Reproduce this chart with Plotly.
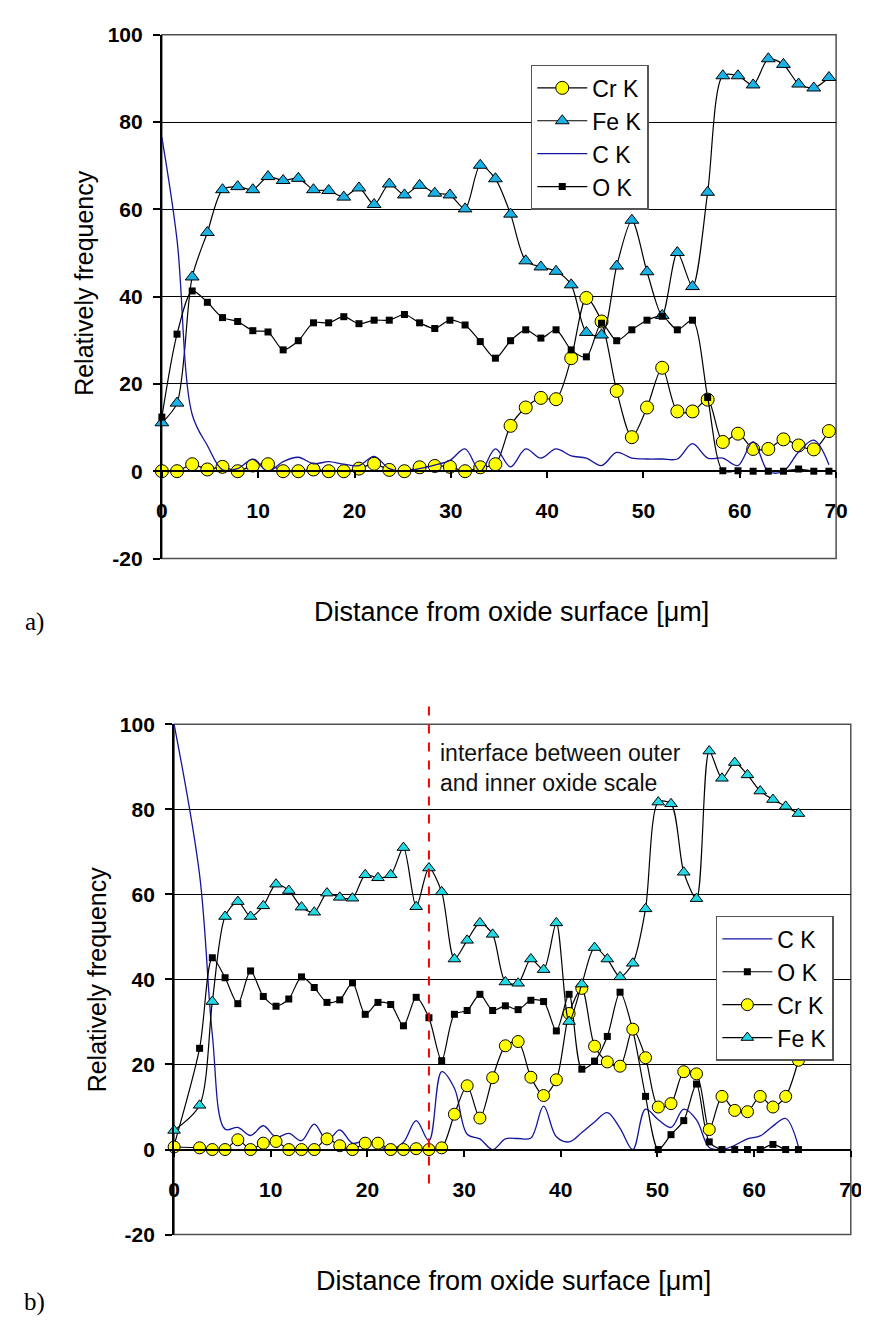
import plotly.graph_objects as go

# ---------------- data : panel a) ----------------
a_x = [0, 1.574, 3.148, 4.722, 6.296, 7.87, 9.444, 11.018, 12.592, 14.166, 15.74,
       17.314, 18.888, 20.462, 22.036, 23.61, 25.184, 26.758, 28.332, 29.906, 31.48,
       33.054, 34.628, 36.202, 37.776, 39.35, 40.924, 42.498, 44.072, 45.646, 47.22,
       48.794, 50.368, 51.942, 53.516, 55.09, 56.664, 58.238, 59.812, 61.386, 62.96,
       64.534, 66.108, 67.682, 69.256]
a_cr = [0, 0, 1.6, 0.4, 1.0, 0, 1.3, 1.6, 0, 0, 0.4, 0, 0, 0.6, 1.7, 0.3, 0, 0.9, 1.2,
        1.0, 0, 0.9, 1.6, 10.4, 14.6, 16.8, 16.5, 25.9, 39.7, 34.3, 18.4, 7.8, 14.6,
        23.7, 13.7, 13.7, 16.4, 6.7, 8.6, 5.1, 5.1, 7.3, 5.9, 5.0, 9.2]
a_fe = [11.1, 15.6, 44.5, 54.7, 64.5, 65.2, 64.5, 67.5, 66.6, 67.1, 64.5, 64.3, 62.8,
        64.9, 61.1, 65.8, 63.3, 65.5, 63.7, 63.3, 60.1, 70.1, 67.0, 58.9, 48.2, 46.8,
        45.8, 42.7, 31.8, 31.2, 47.0, 57.5, 45.7, 35.7, 50.1, 42.3, 63.9, 90.6, 90.6,
        88.5, 94.5, 93.2, 88.7, 87.8, 90.2]
a_c = [76.5, 53, 13, 5.9, 0.3, 0.6, 2.7, 0, 2.2, 3.2, 1.7, 2.2, 1.6, 1.3, 3.4, 0.6, 0,
       0.6, 1.4, 2.5, 5.1, 0, 5.1, 1.0, 5.1, 3.0, 5.1, 3.5, 3.0, 1.3, 4.3, 3.0, 2.8,
       2.8, 2.8, 6.3, 3.0, 3.0, 1.3, 6.8, 0, 0, 4.4, 7.1, 1.5]
a_o = [12.4, 31.4, 41.3, 38.7, 35.2, 34.3, 32.2, 31.9, 27.8, 29.9, 34.0, 34.0, 35.4,
       33.8, 34.6, 34.6, 35.9, 34.0, 32.7, 34.6, 33.5, 29.7, 25.9, 29.9, 32.4, 30.5,
       32.4, 27.8, 26.2, 33.9, 29.9, 32.4, 34.6, 35.5, 32.4, 34.6, 16.9, 0.1, 0.1, 0,
       0, 0, 0.5, 0, 0]

# ---------------- data : panel b) ----------------
b_x = [0, 2.636, 3.954, 5.272, 6.59, 7.908, 9.226, 10.544, 11.862, 13.18, 14.498,
       15.816, 17.134, 18.452, 19.77, 21.088, 22.406, 23.724, 25.042, 26.36, 27.678,
       28.996, 30.314, 31.632, 32.95, 34.268, 35.586, 36.904, 38.222, 39.54, 40.858,
       42.176, 43.494, 44.812, 46.13, 47.448, 48.766, 50.084, 51.402, 52.72, 54.038,
       55.356, 56.674, 57.992, 59.31, 60.628, 61.946, 63.264, 64.582]
b_c = [100, 64.6, 27, 4.8, 5.2, 3.3, 5.6, 2.9, 3.8, 2.1, 6.0, 2.1, 4.6, 1.5, 2.0, 0.8,
       0, 1.7, 6.8, 2.1, 18.3, 14.4, 3.6, 2.5, 0, 2.5, 2.6, 2.7, 10.2, 3.0, 1.8, 4.0,
       6.5, 8.7, 5.0, 0, 9.5, 7.0, 5.2, 9.5, 7.0, 0.5, 0, 1.0, 2.5, 3.2, 5.5, 7.3, 0.7]
b_o = [1.0, 23.8, 45.1, 40.4, 34.3, 42.0, 36.0, 33.7, 35.4, 40.6, 38.1, 34.6, 35.2,
       39.2, 31.8, 34.6, 34.1, 29.1, 35.8, 31.0, 20.9, 31.8, 32.7, 36.5, 32.7, 33.8,
       32.9, 35.1, 34.8, 27.9, 36.5, 18.9, 20.8, 26.6, 37.0, 28.0, 12.5, 0, 3.5, 6.8,
       15.4, 1.8, 0, 0, 0, 0, 1.2, 0, 0]
b_cr = [0.6, 0.4, 0, 0, 2.3, 0, 1.5, 1.9, 0, 0, 0, 2.5, 0.9, 0, 1.5, 1.5, 0, 0, 0.2, 0,
        0.4, 8.3, 15.0, 7.4, 16.9, 24.4, 25.4, 17.0, 12.7, 16.4, 32.0, 37.9, 24.3, 20.6,
        19.6, 28.3, 21.6, 10.0, 10.8, 18.3, 17.8, 4.7, 12.5, 9.2, 8.9, 12.5, 10.0, 12.5,
        21.0]
b_fe = [4.5, 10.4, 34.8, 54.8, 58.3, 54.8, 57.3, 62.4, 60.9, 57.0, 55.8, 60.3, 59.3,
        59.1, 64.6, 63.9, 64.6, 71.0, 57.1, 66.2, 60.6, 44.8, 49.2, 53.3, 50.6, 39.4,
        39.1, 44.8, 42.3, 53.3, 30.1, 38.9, 47.5, 44.8, 40.6, 43.8, 56.6, 81.7, 81.3,
        65.2, 59.0, 93.7, 87.3, 91.0, 88.1, 84.3, 82.3, 80.7, 79.0]
interface_x = 26.36

x_range = [0, 70]
y_range = [-20, 100]
x_ticks = [0, 10, 20, 30, 40, 50, 60, 70]
y_ticks = [-20, 0, 20, 40, 60, 80, 100]
y_tick_labels = ["-20", "0", "20", "40", "60", "80", "100"]
x_title = "Distance from oxide surface [μm]"
y_title = "Relatively frequency"

# ---------------- styling ----------------
W, H = 869, 1328
SANS = "Liberation Sans, Arial, sans-serif"
SERIF = "Liberation Serif, Times New Roman, serif"
FE_A = "#18B2E6"
FE_B = "#22DAE6"
C_COL = "#14149C"
SPL = 0.8


def px2x(p):
    return p / W


def px2y(p):
    return 1 - p / H


# panel domains (pixel extents of the plot areas)
a_dom_x = [px2x(151), px2x(839.5)]
a_dom_y = [px2y(548), px2y(15)]
b_dom_x = [px2x(163.5), px2x(854.5)]
b_dom_y = [px2y(1236), px2y(716.7)]


def zero_pos(dom):
    return dom[0] + (0 - y_range[0]) / (y_range[1] - y_range[0]) * (dom[1] - dom[0])


fig = go.Figure()


def cr_trace(x, y, xa, ya, leg, size):
    return go.Scatter(x=x, y=y, name="Cr K", mode="lines+markers", xaxis=xa, yaxis=ya,
                      legend=leg, cliponaxis=False,
                      line=dict(color="black", width=1.2, shape="spline", smoothing=SPL),
                      marker=dict(symbol="circle", size=size, color="#FFFF00",
                                  line=dict(color="black", width=1)))


def fe_trace(x, y, xa, ya, leg, size, col):
    return go.Scatter(x=x, y=y, name="Fe K", mode="lines+markers", xaxis=xa, yaxis=ya,
                      legend=leg, cliponaxis=False,
                      line=dict(color="black", width=1.2, shape="spline", smoothing=SPL),
                      marker=dict(symbol="triangle-up", size=size, color=col,
                                  line=dict(color="black", width=1)))


def c_trace(x, y, xa, ya, leg):
    return go.Scatter(x=x, y=y, name="C K", mode="lines", xaxis=xa, yaxis=ya,
                      legend=leg, cliponaxis=False,
                      line=dict(color=C_COL, width=1.3, shape="spline", smoothing=1.0))


def o_trace(x, y, xa, ya, leg, size):
    return go.Scatter(x=x, y=y, name="O K", mode="lines+markers", xaxis=xa, yaxis=ya,
                      legend=leg, cliponaxis=False,
                      line=dict(color="black", width=1.2, shape="spline", smoothing=SPL),
                      marker=dict(symbol="square", size=size, color="black",
                                  line=dict(color="black", width=0)))


# panel a) (legend order: Cr, Fe, C, O)
fig.add_trace(cr_trace(a_x, a_cr, "x", "y", "legend", 13))
fig.add_trace(fe_trace(a_x, a_fe, "x", "y", "legend", 12, FE_A))
fig.add_trace(c_trace(a_x, a_c, "x", "y", "legend"))
fig.add_trace(o_trace(a_x, a_o, "x", "y", "legend", 7))

# panel b) (legend order: C, O, Cr, Fe)
fig.add_trace(c_trace(b_x, b_c, "x2", "y2", "legend2"))
fig.add_trace(o_trace(b_x, b_o, "x2", "y2", "legend2", 7))
fig.add_trace(cr_trace(b_x, b_cr, "x2", "y2", "legend2", 12))
fig.add_trace(fe_trace(b_x, b_fe, "x2", "y2", "legend2", 11, FE_B))

tickfont = dict(family=SANS, size=21, color="black", weight="bold")


def xaxis(dom, ydom):
    return dict(domain=dom, range=x_range, anchor="free", position=zero_pos(ydom),
                tickvals=x_ticks, ticks="outside", ticklen=6, tickwidth=1.5,
                tickcolor="black", showline=True, linecolor="black", linewidth=2,
                showgrid=False, zeroline=False, tickfont=tickfont,
                ticklabelstandoff=15, fixedrange=True)


def yaxis(dom, anchor):
    return dict(domain=dom, range=y_range, anchor=anchor, tickvals=y_ticks,
                ticktext=y_tick_labels,
                ticks="outside", ticklen=7, tickwidth=1.5, tickcolor="black",
                showline=True, linecolor="black", linewidth=2, showgrid=True,
                gridcolor="black", gridwidth=1, zeroline=False, tickfont=tickfont,
                ticklabelstandoff=6, fixedrange=True)


legend_common = dict(bgcolor="white", bordercolor="#555555", borderwidth=1.5,
                     font=dict(family=SANS, size=23, color="black"),
                     xanchor="left", yanchor="top", itemwidth=50,
                     tracegroupgap=0)

fig.update_layout(
    width=W, height=H, autosize=False,
    margin=dict(l=0, r=0, t=0, b=0),
    paper_bgcolor="white", plot_bgcolor="white",
    showlegend=True,
    xaxis=xaxis(a_dom_x, a_dom_y),
    yaxis=yaxis(a_dom_y, "x"),
    xaxis2=xaxis(b_dom_x, b_dom_y),
    yaxis2=yaxis(b_dom_y, "x2"),
    legend=dict(x=px2x(527.7), y=px2y(45.7), **legend_common),
    legend2=dict(x=px2x(716.7), y=px2y(911.7), **legend_common),
)

# plot-area borders
for xr, yr in (("x domain", "y domain"), ("x2 domain", "y2 domain")):
    fig.add_shape(type="rect", xref=xr, yref=yr, x0=0, x1=1, y0=0, y1=1,
                  line=dict(color="#505050", width=1.5), layer="below")

# dashed interface line in panel b)
fig.add_shape(type="line", xref="x2 domain", yref="paper",
              x0=(interface_x - x_range[0]) / (x_range[1] - x_range[0]),
              x1=(interface_x - x_range[0]) / (x_range[1] - x_range[0]),
              y0=px2y(1184), y1=px2y(698),
              line=dict(color="#FF0000", width=2, dash="dash"))

ann = []
ann.append(dict(text=y_title, x=px2x(72), y=px2y(268), textangle=-90,
                font=dict(family=SANS, size=25, color="black")))
ann.append(dict(text=y_title, x=px2x(85), y=px2y(976), textangle=-90,
                font=dict(family=SANS, size=25, color="black")))
ann.append(dict(text=x_title, x=px2x(508), y=px2y(602),
                font=dict(family=SANS, size=27, color="black")))
ann.append(dict(text=x_title, x=px2x(510), y=px2y(1283),
                font=dict(family=SANS, size=27, color="black")))
ann.append(dict(text="a)", x=px2x(21), y=px2y(613),
                font=dict(family=SERIF, size=25, color="black")))
ann.append(dict(text="b)", x=px2x(21), y=px2y(1305),
                font=dict(family=SERIF, size=25, color="black")))
ann.append(dict(text="interface between outer<br>and inner oxide scale",
                x=px2x(433), y=px2y(761), xanchor="left", align="left",
                font=dict(family=SANS, size=23, color="#111111")))
for a in ann:
    a.setdefault("xanchor", "center")
    a.update(xref="paper", yref="paper", yanchor="middle", showarrow=False)
    fig.add_annotation(**a)

fig.write_html("out.html")
